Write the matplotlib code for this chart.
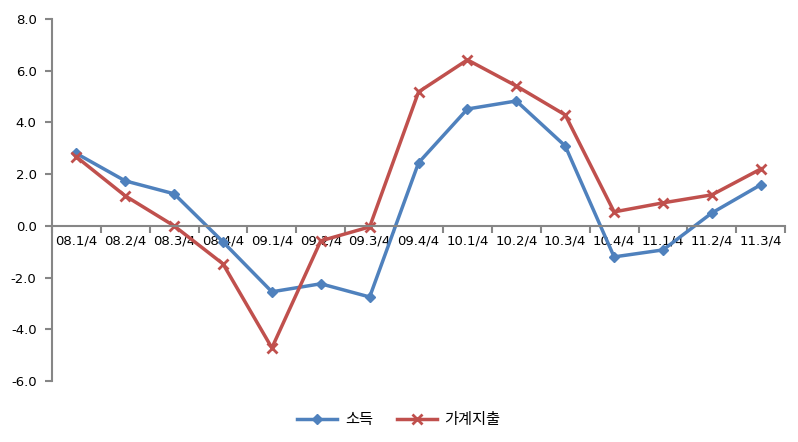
import matplotlib
matplotlib.use("Agg")
import matplotlib.pyplot as plt
import numpy as np

plt.rcParams['font.family'] = ['DejaVu Sans', 'Noto Sans CJK KR']

categories = ["08.1/4", "08.2/4", "08.3/4", "08.4/4", "09.1/4", "09.2/4", "09.3/4", "09.4/4",
              "10.1/4", "10.2/4", "10.3/4", "10.4/4", "11.1/4", "11.2/4", "11.3/4"]
income = [2.8, 1.74, 1.24, -0.62, -2.55, -2.24, -2.75, 2.44, 4.52, 4.83, 3.09, -1.2, -0.93, 0.5, 1.59]
spending = [2.67, 1.16, 0.0, -1.47, -4.72, -0.58, -0.04, 5.18, 6.42, 5.41, 4.29, 0.54, 0.89, 1.2, 2.2]

fig = plt.figure(figsize=(7.98, 4.42), dpi=100)
ax = fig.add_axes([0.065, 0.138, 0.919, 0.819])

x = np.arange(len(categories))
ax.plot(x, income, color='#4F81BD', lw=2.5, marker='D', ms=5.5, label='소득')
ax.plot(x, spending, color='#C0504D', lw=2.5, marker='x', ms=7, mew=2, label='가계지출')

ax.set_xlim(-0.5, len(categories) - 0.5)
ax.set_ylim(-6, 8)
ax.set_yticks(np.arange(-6, 8.1, 2))
ax.set_yticklabels([f"{v:.1f}" for v in np.arange(-6, 8.1, 2)], fontsize=9.5,
                   family=['DejaVu Sans'])

for s in ['top', 'right']:
    ax.spines[s].set_visible(False)
ax.spines['bottom'].set_position(('data', 0))
for s in ['left', 'bottom']:
    ax.spines[s].set_color('#868686')
    ax.spines[s].set_linewidth(1.5)

ax.set_xticks(x)
ax.set_xticklabels(categories, fontsize=9.5)
ax.tick_params(axis='x', which='major', length=0, pad=6)
ax.set_xticks(np.arange(-0.5, len(categories), 1), minor=True)
ax.tick_params(axis='x', which='minor', length=5, width=1.5, color='#868686', direction='out')
ax.tick_params(axis='y', length=5, width=1.5, color='#868686', direction='out', pad=6)

leg = fig.legend(loc='lower center', bbox_to_anchor=(0.5, 0.0), ncol=2, frameon=False,
                 prop={'family': ['Noto Sans CJK KR'], 'size': 11}, handlelength=2.6,
                 handletextpad=0.5, columnspacing=1.6)

fig.savefig('out.png', dpi=100)
